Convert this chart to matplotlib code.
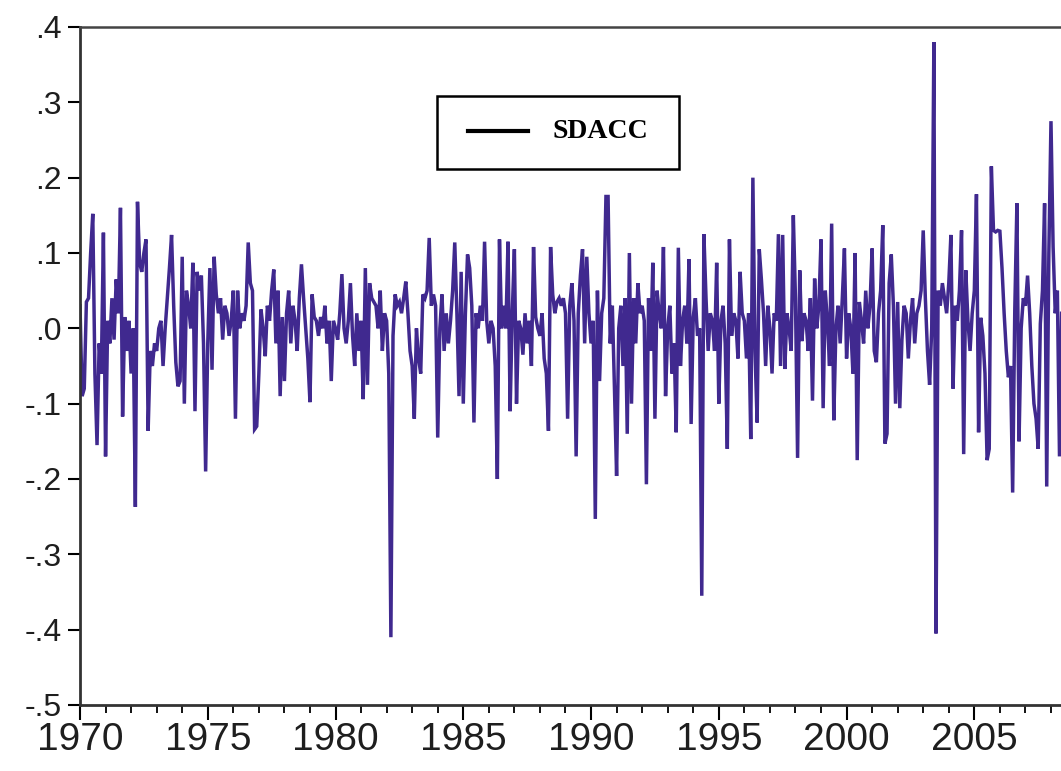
import numpy as np
import matplotlib
matplotlib.use("Agg")
import matplotlib.pyplot as plt
from matplotlib.lines import Line2D
from matplotlib.patches import Rectangle
from matplotlib.ticker import MultipleLocator, FixedLocator

# Monthly SDACC values, Jan 1970 onwards
y1970 = [0.03, -0.09, -0.08, 0.035, 0.04, 0.10, 0.152, -0.06, -0.155, -0.02, -0.06, 0.127]
y1971 = [-0.17, 0.01, -0.02, 0.04, -0.015, 0.065, 0.02, 0.16, -0.117, 0.015, -0.03, 0.01]
y1972 = [-0.06, 0.0, -0.237, 0.168, 0.087, 0.075, 0.10, 0.118, -0.136, -0.03, -0.05, -0.02]
y1973 = [-0.03, 0.0, 0.01, -0.05, 0.0, 0.04, 0.08, 0.124, 0.03, -0.045, -0.077, -0.07]
y1974 = [0.095, -0.10, 0.05, 0.03, 0.0, 0.087, -0.11, 0.075, 0.05, 0.07, -0.02, -0.19]
y1975 = [-0.02, 0.08, -0.055, 0.095, 0.045, 0.02, 0.04, -0.015, 0.03, 0.02, -0.01, 0.01]
y1976 = [0.05, -0.12, 0.05, 0.0, 0.02, 0.01, 0.03, 0.114, 0.06, 0.05, -0.134, -0.13]
y1977 = [-0.06, 0.025, 0.0, -0.037, 0.03, 0.01, 0.05, 0.078, -0.02, 0.05, -0.09, 0.015]
y1978 = [-0.07, 0.02, 0.05, -0.02, 0.03, 0.01, -0.03, 0.04, 0.085, 0.04, 0.0, -0.04]
y1979 = [-0.098, 0.045, 0.015, 0.01, -0.01, 0.015, 0.0, 0.03, -0.02, 0.01, -0.07, 0.01]
y1980 = [0.0, -0.015, 0.02, 0.072, 0.0, -0.02, 0.01, 0.06, -0.01, -0.05, 0.02, -0.03]
y1981 = [0.01, -0.094, 0.08, -0.075, 0.06, 0.04, 0.035, 0.03, 0.0, 0.05, -0.03, 0.02]
y1982 = [0.01, -0.06, -0.41, -0.01, 0.045, 0.03, 0.035, 0.02, 0.04, 0.062, 0.02, -0.03]
y1983 = [-0.05, -0.12, 0.0, -0.04, -0.06, 0.045, 0.04, 0.05, 0.12, 0.03, 0.045, 0.03]
y1984 = [-0.145, 0.0, 0.045, -0.03, 0.02, -0.02, 0.01, 0.05, 0.114, 0.02, -0.09, 0.075]
y1985 = [-0.10, 0.02, 0.098, 0.08, 0.03, -0.125, 0.02, 0.0, 0.03, 0.01, 0.115, 0.01]
y1986 = [-0.02, 0.01, 0.0, -0.05, -0.2, 0.118, 0.0, 0.03, 0.0, 0.115, -0.11, 0.02]
y1987 = [0.105, -0.10, 0.01, 0.0, -0.035, 0.02, -0.02, 0.01, -0.05, 0.108, 0.015, 0.0]
y1988 = [-0.01, 0.02, -0.04, -0.06, -0.136, 0.108, 0.045, 0.02, 0.035, 0.04, 0.03, 0.04]
y1989 = [0.02, -0.12, 0.03, 0.06, 0.01, -0.17, 0.02, 0.07, 0.105, -0.02, 0.095, 0.02]
y1990 = [-0.02, 0.01, -0.253, 0.05, -0.07, 0.02, 0.04, 0.175, 0.175, -0.02, 0.03, -0.08]
y1991 = [-0.196, 0.0, 0.03, -0.05, 0.04, -0.14, 0.10, -0.10, 0.04, -0.02, 0.06, 0.02]
y1992 = [0.03, 0.01, -0.207, 0.04, -0.03, 0.087, -0.12, 0.05, 0.02, 0.0, 0.108, -0.09]
y1993 = [0.0, 0.03, -0.06, -0.02, -0.138, 0.107, -0.05, 0.01, 0.03, -0.02, 0.092, -0.127]
y1994 = [0.015, 0.04, -0.01, 0.0, -0.355, 0.125, 0.04, -0.03, 0.02, 0.01, -0.03, 0.087]
y1995 = [-0.1, 0.01, 0.03, -0.02, -0.16, 0.118, -0.01, 0.02, 0.01, -0.04, 0.075, 0.02]
y1996 = [0.01, -0.04, 0.02, -0.147, 0.2, -0.03, -0.125, 0.105, 0.065, 0.02, -0.05, 0.03]
y1997 = [0.0, -0.06, 0.02, 0.01, 0.125, -0.05, 0.124, -0.054, 0.02, 0.0, -0.03, 0.15]
y1998 = [0.04, -0.172, 0.077, -0.017, 0.02, 0.01, -0.03, 0.04, -0.096, 0.066, 0.0, 0.03]
y1999 = [0.118, -0.106, 0.05, 0.01, -0.05, 0.139, -0.122, 0.0, 0.03, -0.02, 0.04, 0.106]
y2000 = [-0.04, 0.02, 0.0, -0.06, 0.10, -0.175, 0.035, 0.01, -0.02, 0.05, 0.0, 0.03]
y2001 = [0.106, -0.03, -0.045, 0.02, 0.05, 0.137, -0.153, -0.14, 0.06, 0.098, 0.03, -0.1]
y2002 = [0.035, -0.106, -0.015, 0.03, 0.02, -0.04, 0.01, 0.04, -0.02, 0.02, 0.03, 0.05]
y2003 = [0.13, 0.04, -0.03, -0.075, 0.0, 0.38, -0.405, 0.05, 0.03, 0.06, 0.04, 0.02]
y2004 = [0.06, 0.124, -0.08, 0.03, 0.01, 0.05, 0.13, -0.167, 0.077, 0.01, -0.03, 0.02]
y2005 = [0.05, 0.178, -0.138, 0.014, -0.01, -0.06, -0.175, -0.16, 0.215, 0.13, 0.128, 0.13]
y2006 = [0.129, 0.08, 0.02, -0.03, -0.065, -0.05, -0.218, 0.024, 0.166, -0.15, 0.0, 0.04]
y2007 = [0.03, 0.07, 0.02, -0.05, -0.1, -0.12, -0.16, 0.006, 0.05, 0.166, -0.21, 0.1]
y2008 = [0.275, 0.108, 0.02, 0.05, -0.17, 0.02]

sdacc = (y1970 + y1971 + y1972 + y1973 + y1974 + y1975 + y1976 + y1977 + y1978
         + y1979 + y1980 + y1981 + y1982 + y1983 + y1984 + y1985 + y1986 + y1987
         + y1988 + y1989 + y1990 + y1991 + y1992 + y1993 + y1994 + y1995 + y1996
         + y1997 + y1998 + y1999 + y2000 + y2001 + y2002 + y2003 + y2004 + y2005
         + y2006 + y2007 + y2008)
start_year = 1970
series_label = "SDACC"
ytick_vals = [0.4, 0.3, 0.2, 0.1, 0.0, -0.1, -0.2, -0.3, -0.4, -0.5]
ytick_labels = [".4", ".3", ".2", ".1", ".0", "-.1", "-.2", "-.3", "-.4", "-.5"]
xtick_years = [1970, 1975, 1980, 1985, 1990, 1995, 2000, 2005]

t = start_year + np.arange(len(sdacc)) / 12.0

plt.rcParams['font.family'] = ['Liberation Sans', 'DejaVu Sans']
fig = plt.figure(figsize=(10.61, 7.71), dpi=100)
ax = fig.add_axes([80 / 1061, 1 - 705 / 771, 1 - 80 / 1061, (705 - 27) / 771])

ax.plot(t, sdacc, color='#40298f', lw=2.5, solid_joinstyle='miter')

ax.set_ylim(-0.5, 0.4)
ax.set_xlim(1970, 1970 + (1061 - 82) / 25.5)

ax.yaxis.set_major_locator(FixedLocator(ytick_vals))
ax.set_yticklabels(ytick_labels, fontsize=23, color='#1e1e1e')
ax.xaxis.set_major_locator(FixedLocator(xtick_years))
ax.set_xticklabels([str(y) for y in xtick_years], fontsize=28, color='#1e1e1e')
ax.xaxis.set_minor_locator(MultipleLocator(1))

ax.tick_params(axis='y', direction='out', length=9, width=1.5, pad=4)
ax.tick_params(axis='x', which='major', direction='out', length=11, width=1.5, pad=1)
ax.tick_params(axis='x', which='minor', direction='out', length=6, width=1.3)

for s in ['left', 'bottom']:
    ax.spines[s].set_linewidth(2.0)
    ax.spines[s].set_color('#333333')
ax.spines['top'].set_linewidth(1.8)
ax.spines['top'].set_color('#444444')
ax.spines['right'].set_visible(False)

# Legend box
fig.patches.append(Rectangle((437 / 1061, 1 - 169 / 771), 242 / 1061, 73 / 771,
                             transform=fig.transFigure, fill=True, facecolor='white',
                             edgecolor='black', lw=1.8, zorder=5))
fig.lines.append(Line2D([468 / 1061, 528 / 1061], [1 - 131 / 771, 1 - 131 / 771],
                        transform=fig.transFigure, color='black', lw=3, zorder=6))
fig.text(553 / 1061, 1 - 131 / 771, series_label, fontsize=20, fontweight='bold',
         family='Liberation Serif', va='center', ha='left', zorder=6)

fig.savefig('out.png', dpi=100)
